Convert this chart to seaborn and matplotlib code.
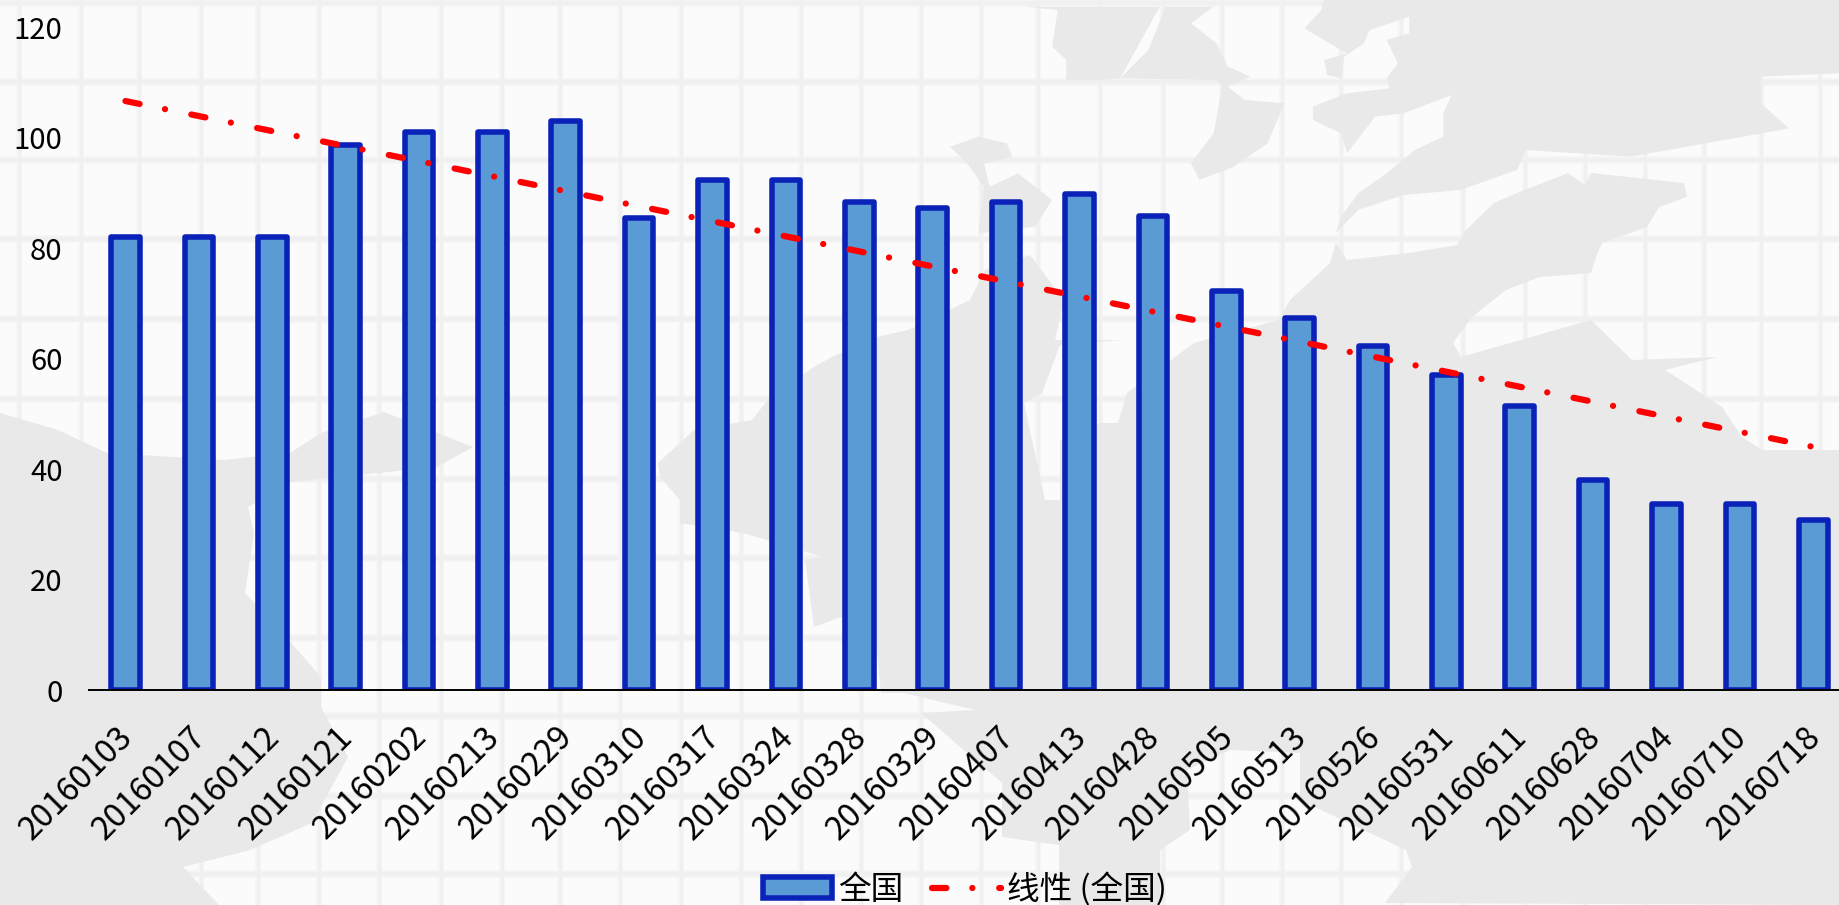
import matplotlib
matplotlib.use("Agg")
import matplotlib.pyplot as plt
from matplotlib.lines import Line2D
from matplotlib.patches import Patch, Polygon
from matplotlib.transforms import ScaledTranslation
import seaborn as sns

dates = ["20160103","20160107","20160112","20160121","20160202","20160213","20160229","20160310",
         "20160317","20160324","20160328","20160329","20160407","20160413","20160428","20160505",
         "20160513","20160526","20160531","20160611","20160628","20160704","20160710","20160718"]
values = [82, 82, 82, 98.7, 101, 101, 103, 85.5, 92.3, 92.3, 88.3, 87.3, 88.3, 89.8, 85.8, 72.3,
          67.4, 62.3, 57, 51.4, 38, 33.6, 33.6, 30.7]
trend_ends = [106.6, 44.0]
yticks = [0, 20, 40, 60, 80, 100, 120]
series_name = "全国"
trend_name = "线性 (全国)"

W, H = 1839, 905
sns.set_theme(style="white")
plt.rcParams['font.family'] = ['Noto Sans CJK SC', 'DejaVu Sans']

BG, GRID, LAND = "#fbfbfb", "#f0f0f0", "#e9e9e9"
FILL, EDGE, RED = "#5B9BD5", "#0A22B8", "#FF0000"

fig = plt.figure(figsize=(W / 100, H / 100), dpi=100, facecolor=BG)

# --- faint world-map backdrop, in pixel positions of the figure
def fx(x): return x / W
def fy(y): return 1 - y / H

grid_x = [19, 81, 139, 201, 258, 319, 379, 441, 502, 560, 620, 681, 741, 801, 861, 921, 981, 1038,
          1100, 1163, 1222, 1282, 1341, 1401, 1463, 1525, 1585, 1645, 1704, 1761, 1820]
grid_y = [3, 82, 160, 239, 319, 399, 479, 558, 638, 716, 796, 874]
for gx in grid_x:
    fig.add_artist(Line2D([fx(gx)] * 2, [0, 1], color="#f6f6f6", lw=4.4, zorder=-6))
    fig.add_artist(Line2D([fx(gx)] * 2, [0, 1], color=GRID, lw=2.2, zorder=-5))
for gy in grid_y:
    fig.add_artist(Line2D([0, 1], [fy(gy)] * 2, color="#f6f6f6", lw=5.6, zorder=-6))
    fig.add_artist(Line2D([0, 1], [fy(gy)] * 2, color=GRID, lw=3.2, zorder=-5))

def z6(pts):
    return [(950 + a * 0.567, b / 3) for a, b in pts]

lands = [
    # left land
    [(0,413),(58,430),(107,453),(223,460),(290,453),(321,433),(384,412),(473,447),(437,467),(290,482),
     (248,507),(254,533),(245,593),(286,637),(321,677),(321,707),(348,757),(312,823),(250,850),
     (183,867),(219,905),(0,905)],
    # north-east land, right part of the top
    z6([(660,0),(655,30),(625,85),(700,160),(660,180),(665,225),(690,235),(695,170),(730,130),(740,90),
        (810,50),(810,100),(770,120),(790,190),(770,235),(775,265),(700,280),(640,320),(640,360),
        (690,400),(700,460),(750,350),(800,340),(885,285),(870,340),(870,410),(820,450),(770,520),
        (720,580),(690,650),(680,700),(720,630),(800,585),(900,570),(1000,510),(1015,450),(1200,470),
        (1300,440),(1480,385),(1430,310),(1430,230),(1568,220),(1568,0)]),
    # Greenland-like piece at the top
    z6([(380,20),(465,20),(425,70),(470,130),(490,200),(530,230),(490,260),(520,300),(590,310),(560,430),
        (500,500),(440,540),(425,490),(465,400),(480,260),(470,240),(300,235),(350,150)]),
    z6([(130,20),(190,30),(180,140),(205,180),(205,240),(270,240),(300,235),(370,20)]),
    # small island group near the middle
    z6([(0,440),(50,410),(100,430),(110,470),(60,490),(70,560),(120,520),(180,600),(150,680),(50,700),(60,560),(30,490)]),
    # big land behind the bars and along the bottom right
    [(658,463),(694,430),(752,420),(770,397),(814,367),(832,357),(877,337),(908,330),(970,300),(985,270),
     (1030,255),(1064,300),(1055,340),(1122,340),(1060,345),(1042,393),(1024,403),(1045,500),(1060,500),
     (1060,440),(1100,423),(1118,423),(1127,393),(1194,343),(1279,320),(1290,300),(1330,263),(1336,243),
     (1347,260),(1409,253),(1457,245),(1466,230),(1494,203),(1517,193),(1568,173),(1585,185),(1591,173),
     (1684,183),(1687,197),(1659,207),(1647,227),(1602,243),(1596,257),(1591,273),(1540,277),(1506,290),
     (1472,317),(1453,343),(1461,357),(1591,320),(1632,360),(1717,357),(1665,370),(1722,407),(1742,437),
     (1762,450),(1839,450),(1839,905),(1385,903),(1412,867),(1406,850),(1300,800),(1300,753),(1230,750),
     (1187,770),(1190,830),(1160,850),(1160,905),(1059,905),(1059,845),(1002,837),(1002,783),(921,713),
     (975,710),(904,693),(881,693),(877,653),(841,617),(814,627),(805,560),(823,557),(743,533),(680,523),
     (680,500),(660,477)],
]
for pts in lands:
    fig.add_artist(Polygon([(fx(a), fy(b)) for a, b in pts], closed=True, facecolor=LAND,
                           edgecolor="none", zorder=-4, transform=fig.transFigure))

# --- chart
left, right, top, bottom = 88.8, 1850, 27, 690
ax = fig.add_axes([fx(left), fy(bottom), (right - left) / W, (bottom - top) / H])
ax.patch.set_alpha(0)

sns.barplot(x=dates, y=values, color=FILL, saturation=1, width=0.39, edgecolor=EDGE,
            linewidth=4.0, ax=ax, zorder=2)
for p in ax.patches:
    p.set_joinstyle("round")

dash = (0, (2.3, 4.15, 0.01, 4.29))
ax.plot([0, len(dates) - 1], trend_ends, color=RED, lw=4.5, linestyle=dash,
        dash_capstyle="round", zorder=3)

ax.set_xlim(-0.5, len(dates) - 0.5)
ax.set_ylim(0, 120)
ax.set_yticks(yticks)
ax.tick_params(axis="y", length=0, pad=19, labelsize=21, labelcolor="black")
ax.tick_params(axis="x", length=0, pad=22, labelcolor="black")
ax.set_xticks(range(len(dates)))
ax.set_xticklabels(dates, rotation=45, ha="right", va="top", rotation_mode="anchor", fontsize=23.5)
shift = ScaledTranslation(-9 / 100, 0, fig.dpi_scale_trans)
for lab in ax.get_xticklabels():
    lab.set_transform(lab.get_transform() + shift)
for s in ("left", "top", "right"):
    ax.spines[s].set_visible(False)
ax.spines["bottom"].set_color("black")
ax.spines["bottom"].set_linewidth(1.4)
ax.spines["bottom"].set_zorder(4)
ax.grid(False)

handles = [Patch(facecolor=FILL, edgecolor=EDGE, linewidth=4.0, joinstyle="round"),
           Line2D([0], [0], color=RED, lw=4.5, linestyle=dash, dash_capstyle="round")]
leg = fig.legend(handles, [series_name, trend_name], loc="center", ncol=2, frameon=False,
                 bbox_to_anchor=(fx(965), fy(889)), fontsize=23.5, handlelength=2.12, handleheight=0.6,
                 handletextpad=0.2, columnspacing=0.85, labelcolor="black")

fig.savefig("out.png", dpi=100, facecolor=fig.get_facecolor())
